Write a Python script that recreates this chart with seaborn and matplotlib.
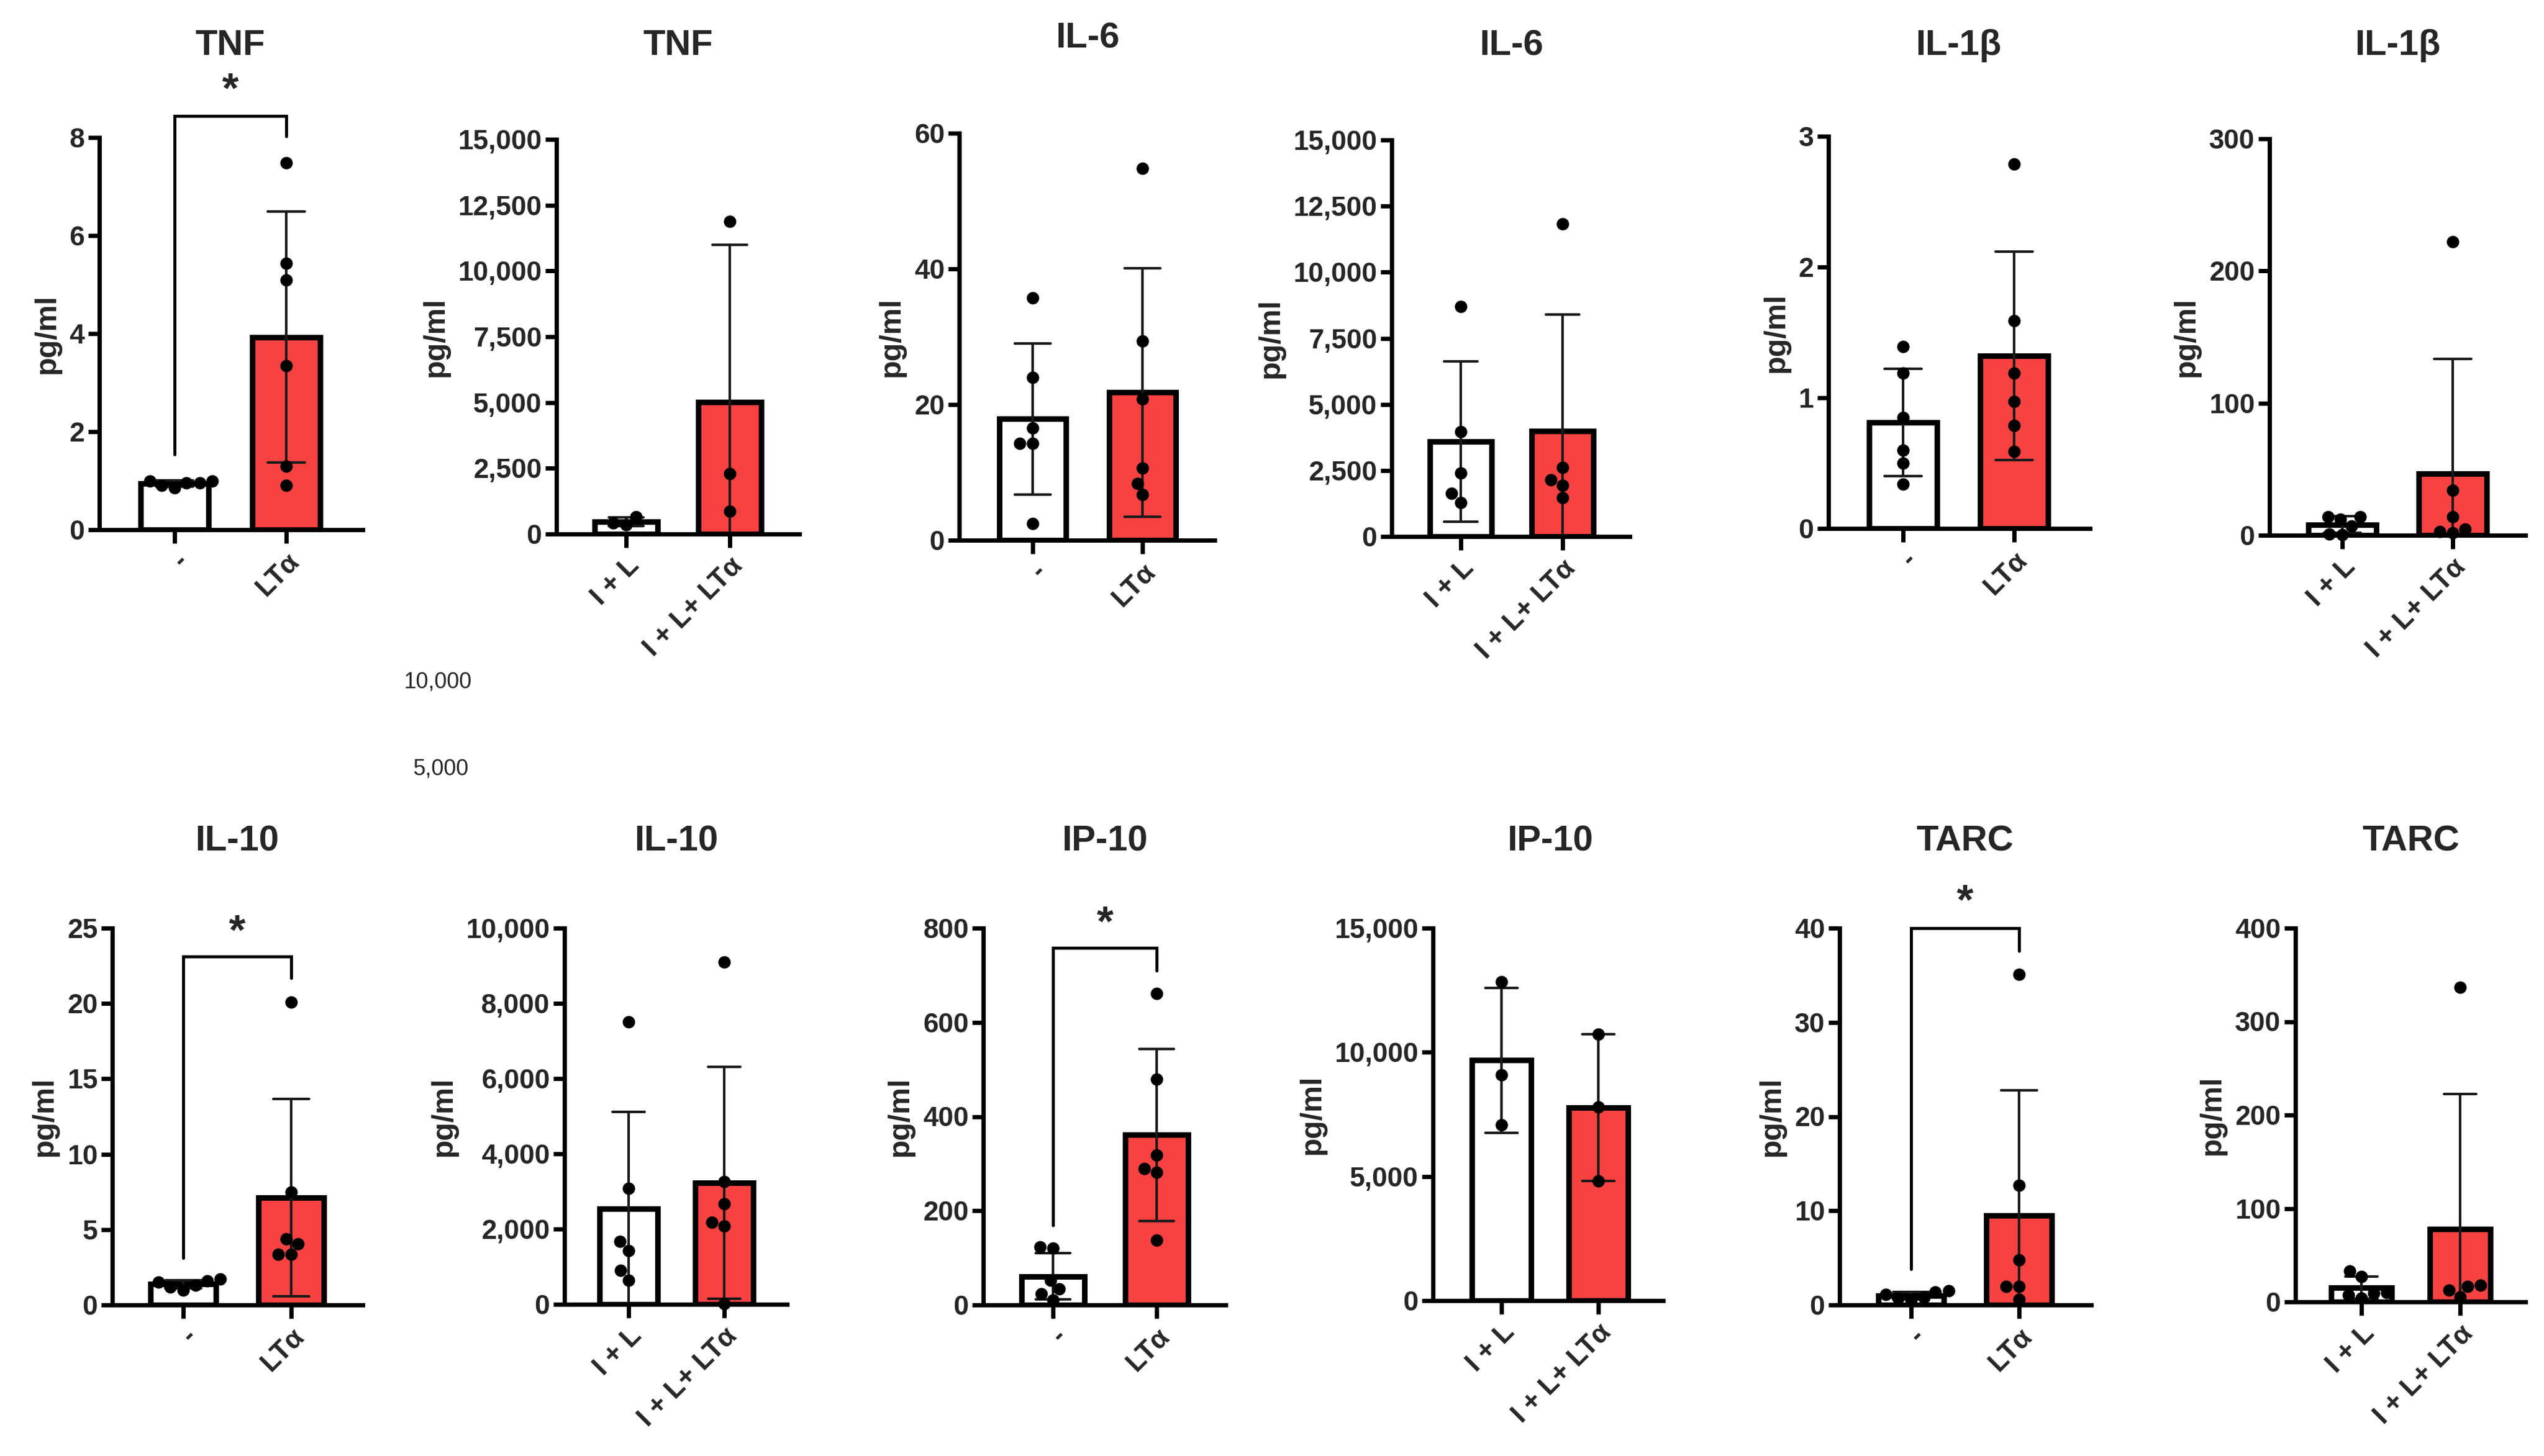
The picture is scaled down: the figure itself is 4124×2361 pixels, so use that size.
"""Cytokine panels: pg/ml per condition, bar = mean, error = SD, dots = replicates."""

import matplotlib
matplotlib.use("Agg")
import matplotlib.pyplot as plt
from matplotlib.ticker import FuncFormatter
import numpy as np
import pandas as pd
import seaborn as sns

# ---- data ----
groups_a = ["-", "LTα"]
groups_b = ["I + L", "I + L+ LTα"]

tnf_a_ctrl = [0.95, 1.0, 0.9, 0.95, 0.85, 1.0]
tnf_a_lta = [7.49, 5.43, 5.10, 3.34, 1.30, 0.90]
tnf_b_ctrl = [340, 420, 660]
tnf_b_lta = [11880, 2300, 860]

il6_a_ctrl = [35.7, 24.0, 16.5, 14.3, 14.3, 2.5]
il6_a_lta = [54.8, 29.4, 20.8, 10.6, 8.4, 6.7]
il6_b_ctrl = [8690, 3960, 2410, 1630, 1290]
il6_b_lta = [11820, 2620, 2150, 1930, 1460]

il1b_a_ctrl = [1.39, 1.19, 0.85, 0.60, 0.50, 0.34]
il1b_a_lta = [2.79, 1.59, 1.19, 0.97, 0.79, 0.59]
il1b_b_ctrl = [12, 14, 14, 7, 0.5, 1]
il1b_b_lta = [222, 34, 14, 4.5, 3, 2]

il10_a_ctrl = [1.7, 1.3, 1.6, 1.2, 1.0, 1.5]
il10_a_lta = [20.1, 7.5, 4.05, 4.37, 3.35, 3.35]
il10_b_ctrl = [7515, 3090, 1670, 1420, 900, 640]
il10_b_lta = [9100, 3270, 2680, 2180, 2090, 20]

ip10_a_ctrl = [120, 123, 53, 34, 23, 11]
ip10_a_lta = [661, 479, 318, 289, 281, 137]
ip10_b_ctrl = [12850, 9100, 7090]
ip10_b_lta = [10720, 7810, 4810]

tarc_a_ctrl = [0.5, 1.5, 0.8, 1.4, 0.7, 1.1]
tarc_a_lta = [35.1, 12.7, 4.75, 1.96, 1.96, 0.56]
tarc_b_ctrl = [27, 33, 7, 9, 10, 4]
tarc_b_lta = [336.6, 17.8, 16.4, 12.7, 5.6]

panels = [
    ("TNF", groups_a, tnf_a_ctrl, tnf_a_lta, [0, 2, 4, 6, 8]),
    ("TNF", groups_b, tnf_b_ctrl, tnf_b_lta, [0, 2500, 5000, 7500, 10000, 12500, 15000]),
    ("IL-6", groups_a, il6_a_ctrl, il6_a_lta, [0, 20, 40, 60]),
    ("IL-6", groups_b, il6_b_ctrl, il6_b_lta, [0, 2500, 5000, 7500, 10000, 12500, 15000]),
    ("IL-1β", groups_a, il1b_a_ctrl, il1b_a_lta, [0, 1, 2, 3]),
    ("IL-1β", groups_b, il1b_b_ctrl, il1b_b_lta, [0, 100, 200, 300]),
    ("IL-10", groups_a, il10_a_ctrl, il10_a_lta, [0, 5, 10, 15, 20, 25]),
    ("IL-10", groups_b, il10_b_ctrl, il10_b_lta, [0, 2000, 4000, 6000, 8000, 10000]),
    ("IP-10", groups_a, ip10_a_ctrl, ip10_a_lta, [0, 200, 400, 600, 800]),
    ("IP-10", groups_b, ip10_b_ctrl, ip10_b_lta, [0, 5000, 10000, 15000]),
    ("TARC", groups_a, tarc_a_ctrl, tarc_a_lta, [0, 10, 20, 30, 40]),
    ("TARC", groups_b, tarc_b_ctrl, tarc_b_lta, [0, 100, 200, 300, 400]),
]

# significance: panel index -> (bracket top, left leg end, right leg end, star y) in data units
significance = {
    0: (8.44, 1.53, 8.02, 8.95),
    6: (23.1, 3.1, 21.7, 24.7),
    8: (758, 169, 710, 808),
    10: (40.0, 3.8, 37.6, 42.7),
}

# ---- layout in pixels of the 4124 x 2361 canvas ----
# (spine x, top tick y, zero y, axis right end, centre bar 0, centre bar 1, title y)
layout = [
    (161, 223, 859, 588, 283, 464, 74),
    (902, 226, 866, 1296, 1015, 1183, 74),
    (1555, 216, 876, 1969, 1674, 1852, 63),
    (2256, 227, 870, 2642, 2368, 2533, 74),
    (2964, 221, 857, 3388, 3085, 3265, 74),
    (3679, 225, 868, 4094, 3797, 3976, 74),
    (182, 1505, 2116, 588, 297, 472, 1364),
    (915, 1505, 2115, 1276, 1019, 1174, 1364),
    (1594, 1505, 2116, 1987, 1707, 1875, 1364),
    (2323, 1505, 2109, 2696, 2434, 2591, 1364),
    (2982, 1505, 2116, 3390, 3098, 3273, 1364),
    (3721, 1505, 2111, 4094, 3828, 3988, 1364),
]

W, H = 4124, 2361
RED = "#F84242"

sns.set_theme(style="ticks")
plt.rcParams["font.family"] = ["Liberation Sans", "DejaVu Sans"]
plt.rcParams["font.weight"] = "bold"

fig = plt.figure(figsize=(W / 100, H / 100), dpi=100)
comma = FuncFormatter(lambda v, _: f"{v:,.0f}")

for i, (title, groups, ctrl, lta, yticks) in enumerate(panels):
    ax_x, top_y, zero_y, right_x, c0, c1, title_y = layout[i]
    ax = fig.add_axes([ax_x / W, 1 - zero_y / H, (right_x - ax_x) / W, (zero_y - top_y) / H])

    df = pd.DataFrame({
        "group": [groups[0]] * len(ctrl) + [groups[1]] * len(lta),
        "value": list(ctrl) + list(lta),
    })

    sns.barplot(data=df, x="group", y="value", hue="group", order=groups, hue_order=groups,
                palette=["white", RED], saturation=1, legend=False, estimator="mean",
                errorbar="sd", capsize=0.33, width=0.61, edgecolor="black", linewidth=6.5,
                err_kws={"linewidth": 3, "color": "#1a1a1a"}, ax=ax)
    sns.swarmplot(data=df, x="group", y="value", order=groups, color="black",
                  size=14.5, ax=ax)
    for coll in ax.collections:
        coll.set_clip_on(False)
        coll.set_zorder(5)

    spacing = c1 - c0
    ax.set_xlim(-(c0 - ax_x) / spacing, 1 + (right_x - c1) / spacing)
    ax.set_ylim(0, yticks[-1])
    ax.set_yticks(yticks)
    if yticks[-1] >= 1000:
        ax.yaxis.set_major_formatter(comma)

    sns.despine(ax=ax)
    for side in ("left", "bottom"):
        ax.spines[side].set_linewidth(5)
        ax.spines[side].set_color("black")
    ax.tick_params(axis="y", length=13, width=5, labelsize=32, pad=4, color="black")
    ax.tick_params(axis="x", length=16, width=5, labelsize=32, pad=6, color="black")
    ax.set_xticks([0, 1])
    ax.set_xticklabels(groups, rotation=45, ha="right", rotation_mode="anchor",
                       fontweight="bold")
    for lab in ax.get_yticklabels():
        lab.set_fontweight("bold")
    ax.set_xlabel("")
    ax.set_ylabel("pg/ml", fontsize=35, fontweight="bold", labelpad=10)

    fig.text((c0 + c1) / 2 / W, 1 - title_y / H, title, ha="center", va="center",
             fontsize=42, fontweight="bold")

    if i in significance:
        top, left_end, right_end, star_y = significance[i]
        ax.plot([0, 0, 1, 1], [left_end, top, top, right_end], color="black",
                linewidth=3.5, clip_on=False, solid_joinstyle="miter")
        ax.text(0.5, star_y, "*", ha="center", va="center", fontsize=50,
                fontweight="bold", clip_on=False)

# stray axis labels left over in the source figure
fig.text(709 / W, 1 - 1106 / H, "10,000", ha="center", va="center", fontsize=26,
         fontweight="normal")
fig.text(715 / W, 1 - 1247 / H, "5,000", ha="center", va="center", fontsize=26,
         fontweight="normal")

fig.savefig("out.png", dpi=100, facecolor="white")
